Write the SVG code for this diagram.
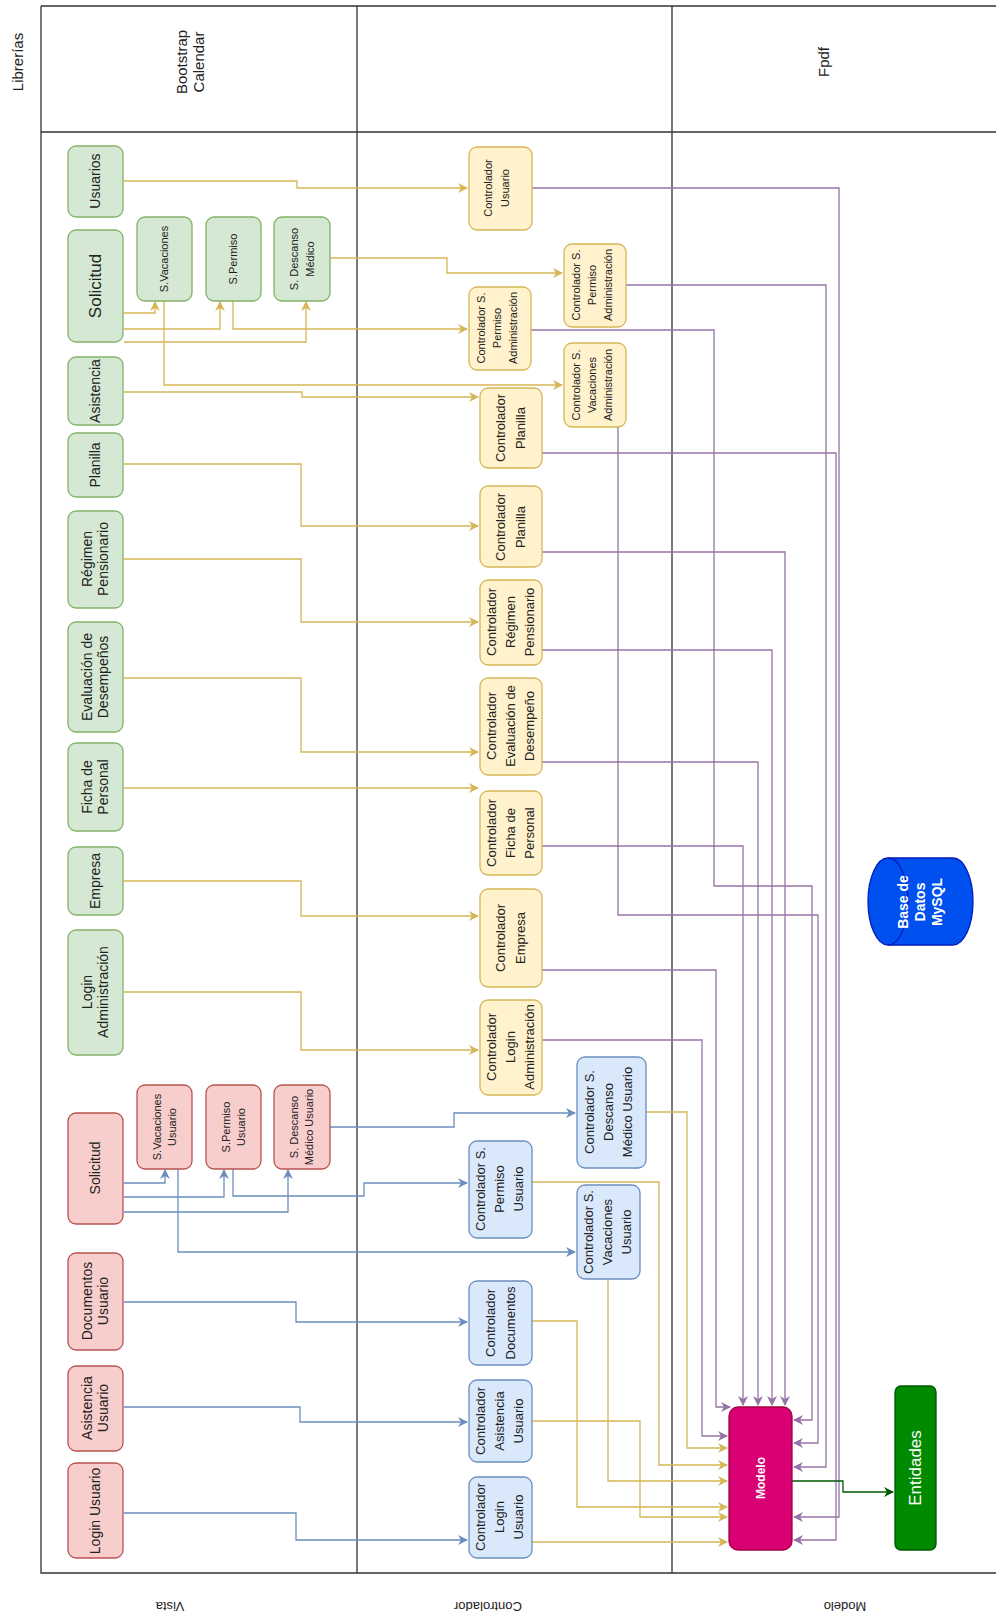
<svg xmlns="http://www.w3.org/2000/svg" width="997" height="1617" viewBox="0 0 997 1617">
<defs>
<style>
text{font-family:"Liberation Sans",Arial,sans-serif;fill:#222;text-anchor:middle;}
.t{font-size:13px}
.n{font-size:14px}
.s{font-size:11px}
.h{font-size:15px}
.lane{fill:none;stroke:#333;stroke-width:1.3}
.gn{fill:#d5e8d4;stroke:#82b366;stroke-width:1.3}
.rd{fill:#f8cecc;stroke:#b85450;stroke-width:1.3}
.yl{fill:#fff2cc;stroke:#d6b656;stroke-width:1.3}
.bl{fill:#dae8fc;stroke:#6c8ebf;stroke-width:1.3}
.cg{fill:none;stroke:#d6b656;stroke-width:1.3;marker-end:url(#ag)}
.cb{fill:none;stroke:#6c8ebf;stroke-width:1.3;marker-end:url(#ab)}
.cp{fill:none;stroke:#9673a6;stroke-width:1.3;marker-end:url(#ap)}
.cd{fill:none;stroke:#005700;stroke-width:1.3;marker-end:url(#ad)}
</style>
<marker id="ag" viewBox="0 0 10 10" refX="9" refY="5" markerWidth="10" markerHeight="10" orient="auto" markerUnits="userSpaceOnUse"><path d="M0,0 L10,5 L0,10 L3,5 z" fill="#d6b656"/></marker>
<marker id="ab" viewBox="0 0 10 10" refX="9" refY="5" markerWidth="10" markerHeight="10" orient="auto" markerUnits="userSpaceOnUse"><path d="M0,0 L10,5 L0,10 L3,5 z" fill="#6c8ebf"/></marker>
<marker id="ap" viewBox="0 0 10 10" refX="9" refY="5" markerWidth="10" markerHeight="10" orient="auto" markerUnits="userSpaceOnUse"><path d="M0,0 L10,5 L0,10 L3,5 z" fill="#9673a6"/></marker>
<marker id="ad" viewBox="0 0 10 10" refX="9" refY="5" markerWidth="10" markerHeight="10" orient="auto" markerUnits="userSpaceOnUse"><path d="M0,0 L10,5 L0,10 L3,5 z" fill="#005700"/></marker>
</defs>
<rect width="997" height="1617" fill="#fff"/>
<g id="lanes">
<path class="lane" d="M41,6 H996 M41,6 V1573 H996 M41,132 H996 M357,6 V1573 M672,6 V1573"/>
<text class="h" transform="translate(23,62) rotate(-90)">Librerías</text>
<text class="h" transform="translate(190,62) rotate(-90)"><tspan x="0" dy="-3">Bootstrap</tspan><tspan x="0" dy="17">Calendar</tspan></text>
<text class="h" transform="translate(829,62) rotate(-90)">Fpdf</text>
<text class="t" transform="translate(170,1602) rotate(180)">Vista</text>
<text class="t" transform="translate(488,1602) rotate(180)">Controlador</text>
<text class="t" transform="translate(845,1602) rotate(180)">Modelo</text>
</g>
<g id="connectors">
<path class="cg" d="M124,181 H297 V188 H467"/>
<path class="cg" d="M124,313 H155 V302"/>
<path class="cg" d="M124,329 H220 V302"/>
<path class="cg" d="M124,342 H306 V302"/>
<path class="cg" d="M164,301 V385 H562"/>
<path class="cg" d="M233,301 V329 H467"/>
<path class="cg" d="M330,258 H447 V273 H562"/>
<path class="cg" d="M124,392 H302 V397 H478"/>
<path class="cg" d="M124,464 H301 V526 H478"/>
<path class="cg" d="M124,559 H301 V622 H478"/>
<path class="cg" d="M124,678 H301 V752 H478"/>
<path class="cg" d="M124,788 H478"/>
<path class="cg" d="M124,881 H301 V916 H478"/>
<path class="cg" d="M124,992 H301 V1050 H478"/>
<path class="cb" d="M124,1183 H165 V1170"/>
<path class="cb" d="M124,1197 H224 V1170"/>
<path class="cb" d="M124,1212 H288 V1170"/>
<path class="cb" d="M178,1169 V1252 H575"/>
<path class="cb" d="M233,1169 V1196 H364 V1183 H467"/>
<path class="cb" d="M330,1127 H454 V1113 H575"/>
<path class="cb" d="M124,1302 H296 V1322 H467"/>
<path class="cb" d="M124,1407 H300 V1422 H467"/>
<path class="cb" d="M124,1513 H296 V1540 H467"/>
<path class="cg" d="M646,1112 H687 V1448 H727"/>
<path class="cg" d="M532,1182 H659 V1465 H727"/>
<path class="cg" d="M608,1278 V1481 H727"/>
<path class="cg" d="M532,1321 H577 V1507 H727"/>
<path class="cg" d="M532,1421 H640 V1517 H727"/>
<path class="cg" d="M532,1542 H727"/>
<path class="cp" d="M532,188 H839 V1517 H794"/>
<path class="cp" d="M625,285 H826 V1467 H794"/>
<path class="cp" d="M530,330 H714 V886 H812 V1420 H794"/>
<path class="cp" d="M618,427 V915 H818 V1443 H794"/>
<path class="cp" d="M542,453 H836 V1540 H794"/>
<path class="cp" d="M542,552 H785 V1405"/>
<path class="cp" d="M542,650 H772 V1405"/>
<path class="cp" d="M542,762 H758 V1405"/>
<path class="cp" d="M542,846 H743 V1405"/>
<path class="cp" d="M542,970 H716 V1407 H730"/>
<path class="cp" d="M542,1040 H702 V1436 H727"/>
<path class="cd" d="M792,1481 H843 V1492 H893"/>
</g>
<g id="vista-green">
<g id="n-usuarios"><rect class="gn" x="68" y="146" width="55" height="71" rx="8"/><text class="n" transform="translate(100,181) rotate(-90)">Usuarios</text></g>
<g id="n-solicitud"><rect class="gn" x="68" y="230" width="55" height="112" rx="8"/><text font-size="17" transform="translate(101,286) rotate(-90)">Solicitud</text></g>
<g id="n-svac"><rect class="gn" x="137" y="217" width="55" height="84" rx="8"/><text class="s" transform="translate(168,259) rotate(-90)">S.Vacaciones</text></g>
<g id="n-sper"><rect class="gn" x="206" y="217" width="55" height="84" rx="8"/><text class="s" transform="translate(237,259) rotate(-90)">S.Permiso</text></g>
<g id="n-sdes"><rect class="gn" x="274" y="217" width="56" height="84" rx="8"/><text class="s" transform="translate(302,259) rotate(-90)"><tspan x="0" dy="-4">S. Descanso</tspan><tspan x="0" dy="16">Médico</tspan></text></g>
<g id="n-asistencia"><rect class="gn" x="68" y="357" width="55" height="68" rx="8"/><text class="n" transform="translate(100,391) rotate(-90)">Asistencia</text></g>
<g id="n-planilla"><rect class="gn" x="68" y="433" width="55" height="64" rx="8"/><text class="n" transform="translate(100,465) rotate(-90)">Planilla</text></g>
<g id="n-regimen"><rect class="gn" x="68" y="511" width="55" height="97" rx="8"/><text class="n" transform="translate(95,559) rotate(-90)"><tspan x="0" dy="-3">Régimen</tspan><tspan x="0" dy="16">Pensionario</tspan></text></g>
<g id="n-eval"><rect class="gn" x="68" y="622" width="55" height="110" rx="8"/><text class="n" transform="translate(95,677) rotate(-90)"><tspan x="0" dy="-3">Evaluación de</tspan><tspan x="0" dy="16">Desempeños</tspan></text></g>
<g id="n-ficha"><rect class="gn" x="68" y="743" width="55" height="88" rx="8"/><text class="n" transform="translate(95,787) rotate(-90)"><tspan x="0" dy="-3">Ficha de</tspan><tspan x="0" dy="16">Personal</tspan></text></g>
<g id="n-empresa"><rect class="gn" x="68" y="847" width="55" height="68" rx="8"/><text class="n" transform="translate(100,881) rotate(-90)">Empresa</text></g>
<g id="n-loginadm"><rect class="gn" x="68" y="930" width="55" height="125" rx="8"/><text class="n" transform="translate(95,992) rotate(-90)"><tspan x="0" dy="-3">Login</tspan><tspan x="0" dy="16">Administración</tspan></text></g>
</g>
<g id="vista-red">
<g id="n-solicitud-u"><rect class="rd" x="68" y="1113" width="55" height="111" rx="8"/><text class="n" transform="translate(100,1168) rotate(-90)">Solicitud</text></g>
<g id="n-svac-u"><rect class="rd" x="137" y="1085" width="55" height="84" rx="8"/><text class="s" transform="translate(164,1127) rotate(-90)"><tspan x="0" dy="-3">S.Vacaciones</tspan><tspan x="0" dy="15">Usuario</tspan></text></g>
<g id="n-sper-u"><rect class="rd" x="206" y="1085" width="55" height="84" rx="8"/><text class="s" transform="translate(233,1127) rotate(-90)"><tspan x="0" dy="-3">S.Permiso</tspan><tspan x="0" dy="15">Usuario</tspan></text></g>
<g id="n-sdes-u"><rect class="rd" x="274" y="1085" width="56" height="84" rx="8"/><text class="s" transform="translate(301,1127) rotate(-90)"><tspan x="0" dy="-3">S. Descanso</tspan><tspan x="0" dy="15">Médico Usuario</tspan></text></g>
<g id="n-doc-u"><rect class="rd" x="68" y="1253" width="55" height="97" rx="8"/><text class="n" transform="translate(95,1301) rotate(-90)"><tspan x="0" dy="-3">Documentos</tspan><tspan x="0" dy="16">Usuario</tspan></text></g>
<g id="n-asis-u"><rect class="rd" x="68" y="1366" width="55" height="85" rx="8"/><text class="n" transform="translate(95,1408) rotate(-90)"><tspan x="0" dy="-3">Asistencia</tspan><tspan x="0" dy="16">Usuario</tspan></text></g>
<g id="n-login-u"><rect class="rd" x="68" y="1463" width="55" height="95" rx="8"/><text class="n" transform="translate(100,1511) rotate(-90)">Login Usuario</text></g>
</g>
<g id="controlador-yellow">
<g id="c-usuario"><rect class="yl" x="469" y="147" width="63" height="83" rx="8"/><text class="s" transform="translate(497,188) rotate(-90)"><tspan x="0" dy="-5">Controlador</tspan><tspan x="0" dy="17">Usuario</tspan></text></g>
<g id="c-sper-adm1"><rect class="yl" x="469" y="287" width="62" height="83" rx="8"/><text class="s" transform="translate(485,328) rotate(-90)"><tspan x="0" dy="0">Controlador S.</tspan><tspan x="0" dy="16">Permiso</tspan><tspan x="0" dy="16">Administración</tspan></text></g>
<g id="c-sper-adm2"><rect class="yl" x="564" y="244" width="62" height="83" rx="8"/><text class="s" transform="translate(580,285) rotate(-90)"><tspan x="0" dy="0">Controlador S.</tspan><tspan x="0" dy="16">Permiso</tspan><tspan x="0" dy="16">Administración</tspan></text></g>
<g id="c-svac-adm"><rect class="yl" x="564" y="343" width="62" height="84" rx="8"/><text class="s" transform="translate(580,385) rotate(-90)"><tspan x="0" dy="0">Controlador S.</tspan><tspan x="0" dy="16">Vacaciones</tspan><tspan x="0" dy="16">Administración</tspan></text></g>
<g id="c-planilla1"><rect class="yl" x="480" y="388" width="62" height="80" rx="8"/><text class="t" transform="translate(505,428) rotate(-90)"><tspan x="0" dy="0">Controlador</tspan><tspan x="0" dy="20">Planilla</tspan></text></g>
<g id="c-planilla2"><rect class="yl" x="480" y="486" width="62" height="81" rx="8"/><text class="t" transform="translate(505,527) rotate(-90)"><tspan x="0" dy="0">Controlador</tspan><tspan x="0" dy="20">Planilla</tspan></text></g>
<g id="c-regimen"><rect class="yl" x="480" y="580" width="62" height="85" rx="8"/><text class="t" transform="translate(496,622) rotate(-90)"><tspan x="0" dy="0">Controlador</tspan><tspan x="0" dy="19">Régimen</tspan><tspan x="0" dy="19">Pensionario</tspan></text></g>
<g id="c-eval"><rect class="yl" x="480" y="678" width="62" height="97" rx="8"/><text class="t" transform="translate(496,726) rotate(-90)"><tspan x="0" dy="0">Controlador</tspan><tspan x="0" dy="19">Evaluación de</tspan><tspan x="0" dy="19">Desempeño</tspan></text></g>
<g id="c-ficha"><rect class="yl" x="480" y="791" width="62" height="84" rx="8"/><text class="t" transform="translate(496,833) rotate(-90)"><tspan x="0" dy="0">Controlador</tspan><tspan x="0" dy="19">Ficha de</tspan><tspan x="0" dy="19">Personal</tspan></text></g>
<g id="c-empresa"><rect class="yl" x="480" y="889" width="62" height="98" rx="8"/><text class="t" transform="translate(505,938) rotate(-90)"><tspan x="0" dy="0">Controlador</tspan><tspan x="0" dy="20">Empresa</tspan></text></g>
<g id="c-loginadm"><rect class="yl" x="480" y="1000" width="62" height="95" rx="8"/><text class="t" transform="translate(496,1047) rotate(-90)"><tspan x="0" dy="0">Controlador</tspan><tspan x="0" dy="19">Login</tspan><tspan x="0" dy="19">Administración</tspan></text></g>
</g>
<g id="controlador-blue">
<g id="c-sdes-u"><rect class="bl" x="577" y="1057" width="69" height="111" rx="8"/><text class="t" transform="translate(594,1112) rotate(-90)"><tspan x="0" dy="0">Controlador S.</tspan><tspan x="0" dy="19">Descanso</tspan><tspan x="0" dy="19">Médico Usuario</tspan></text></g>
<g id="c-sper-u"><rect class="bl" x="469" y="1141" width="63" height="97" rx="8"/><text class="t" transform="translate(485,1189) rotate(-90)"><tspan x="0" dy="0">Controlador S.</tspan><tspan x="0" dy="19">Permiso</tspan><tspan x="0" dy="19">Usuario</tspan></text></g>
<g id="c-svac-u"><rect class="bl" x="577" y="1185" width="63" height="94" rx="8"/><text class="t" transform="translate(593,1232) rotate(-90)"><tspan x="0" dy="0">Controlador S.</tspan><tspan x="0" dy="19">Vacaciones</tspan><tspan x="0" dy="19">Usuario</tspan></text></g>
<g id="c-doc"><rect class="bl" x="469" y="1281" width="63" height="84" rx="8"/><text class="t" transform="translate(495,1323) rotate(-90)"><tspan x="0" dy="0">Controlador</tspan><tspan x="0" dy="20">Documentos</tspan></text></g>
<g id="c-asis"><rect class="bl" x="469" y="1380" width="63" height="82" rx="8"/><text class="t" transform="translate(485,1421) rotate(-90)"><tspan x="0" dy="0">Controlador</tspan><tspan x="0" dy="19">Asistencia</tspan><tspan x="0" dy="19">Usuario</tspan></text></g>
<g id="c-login-u"><rect class="bl" x="469" y="1477" width="63" height="81" rx="8"/><text class="t" transform="translate(485,1517) rotate(-90)"><tspan x="0" dy="0">Controlador</tspan><tspan x="0" dy="19">Login</tspan><tspan x="0" dy="19">Usuario</tspan></text></g>
</g>
<g id="modelo">
<g id="n-modelo"><rect x="729" y="1407" width="63" height="143" rx="9" fill="#d80073" stroke="#a50040" stroke-width="1.3"/><text font-size="12" font-weight="bold" style="fill:#fff" transform="translate(765,1478) rotate(-90)">Modelo</text></g>
<g id="n-entidades"><rect x="895" y="1386" width="41" height="164" rx="6" fill="#008a00" stroke="#005700" stroke-width="1.3"/><text font-size="17" style="fill:#fff" transform="translate(921,1468) rotate(-90)">Entidades</text></g>
<g id="n-bd"><path d="M888,858 H953 A20,43.5 0 0 1 953,945 H888 A20,43.5 0 0 1 888,858 Z" fill="#0050ef" stroke="#001dbc" stroke-width="1.3"/><path d="M888,858 A20,43.5 0 0 1 888,945" fill="none" stroke="#001dbc" stroke-width="1.3"/><text font-size="14" font-weight="bold" style="fill:#fff" transform="translate(920,902) rotate(-90)"><tspan x="0" dy="-12">Base de</tspan><tspan x="0" dy="17">Datos</tspan><tspan x="0" dy="17">MySQL</tspan></text></g>
</g>
</svg>
